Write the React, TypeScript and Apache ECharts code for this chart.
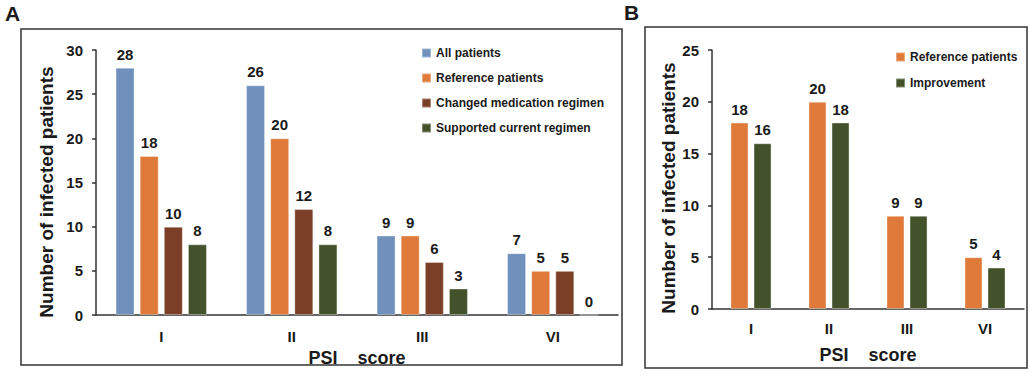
import React, { useEffect, useRef } from "react";
import * as echarts from "echarts";

const categories = ["I", "II", "III", "VI"];
const allPatients = [28, 26, 9, 7];
const referencePatients = [18, 20, 9, 5];
const changedRegimen = [10, 12, 6, 5];
const supportedRegimen = [8, 8, 3, 0];

const refPatientsB = [18, 20, 9, 5];
const improvementB = [16, 18, 9, 4];

const yTicksA = { min: 0, max: 30, interval: 5 };
const yTicksB = { min: 0, max: 25, interval: 5 };

const C_BLUE = "#7191BD";
const C_ORANGE = "#E07A3A";
const C_BROWN = "#7B3F28";
const C_GREEN = "#43522B";
const FONT = "Liberation Sans, Arial, sans-serif";
const INK = "#1a1a1a";
const Y_TITLE = "Number of infected patients";
const X_TITLE = "PSI    score";

export default function App() {
  const ref = useRef<HTMLDivElement>(null);
  useEffect(() => {
    if (!ref.current) return;
    const chart = echarts.init(ref.current, null, { renderer: "svg" });
    const label = {
      show: true,
      position: "top",
      distance: 6,
      fontFamily: FONT,
      fontWeight: "bold",
      fontSize: 15,
      color: INK,
    };
    const xAxisCommon = {
      type: "category",
      data: categories,
      axisTick: { show: false },
      axisLine: { lineStyle: { color: "#333", width: 1.5 } },
      axisLabel: { fontFamily: FONT, fontWeight: "bold", fontSize: 15, color: INK },
      nameLocation: "middle",
      nameTextStyle: { fontFamily: FONT, fontWeight: "bold", fontSize: 18, color: INK },
      name: X_TITLE,
    };
    const yAxisCommon = {
      type: "value",
      splitLine: { show: false },
      axisLine: { show: true, lineStyle: { color: "#333", width: 1.5 } },
      axisTick: { show: true, length: 4, lineStyle: { color: "#333", width: 1.5 } },
      axisLabel: { fontFamily: FONT, fontWeight: "bold", fontSize: 15, color: INK, margin: 13 },
    };
    const bar = (name: string, data: number[], color: string, idx: number, bw: number, gap: string) => ({
      name,
      type: "bar",
      data,
      xAxisIndex: idx,
      yAxisIndex: idx,
      barWidth: bw,
      barGap: gap,
      itemStyle: { color, borderColor: "rgba(255,255,255,0.35)", borderWidth: 1 },
      label,
    });
    const yTitle = (x: number, y: number) => ({
      type: "text",
      x,
      y,
      rotation: Math.PI / 2,
      style: {
        text: Y_TITLE,
        fontFamily: FONT,
        fontWeight: "bold",
        fontSize: 19,
        fill: INK,
        align: "center",
        verticalAlign: "middle",
      },
    });
    chart.setOption({
      animation: false,
      textStyle: { fontFamily: FONT },
      grid: [
        { left: 96, top: 50, width: 522, height: 265 },
        { left: 712, top: 50, width: 312, height: 259 },
      ],
      xAxis: [
        { ...xAxisCommon, gridIndex: 0, nameGap: 30, axisLabel: { ...xAxisCommon.axisLabel, margin: 14 } },
        { ...xAxisCommon, gridIndex: 1, nameGap: 37, axisLabel: { ...xAxisCommon.axisLabel, margin: 12 } },
      ],
      yAxis: [
        { ...yAxisCommon, gridIndex: 0, ...yTicksA },
        { ...yAxisCommon, gridIndex: 1, ...yTicksB },
      ],
      legend: [
        {
          orient: "vertical",
          left: 416,
          top: 42,
          itemWidth: 9,
          itemHeight: 9,
          itemGap: 13,
          icon: "rect",
          textStyle: { fontFamily: FONT, fontWeight: "bold", fontSize: 12, color: INK },
          data: ["All patients", "Reference patients", "Changed medication regimen", "Supported current regimen"],
        },
        {
          orient: "vertical",
          left: 890,
          top: 46,
          itemWidth: 9,
          itemHeight: 9,
          itemGap: 14,
          icon: "rect",
          textStyle: { fontFamily: FONT, fontWeight: "bold", fontSize: 12, color: INK },
          data: ["Reference patients ", "Improvement"],
        },
      ],
      series: [
        bar("All patients", allPatients, C_BLUE, 0, 19, "27%"),
        bar("Reference patients", referencePatients, C_ORANGE, 0, 19, "27%"),
        bar("Changed medication regimen", changedRegimen, C_BROWN, 0, 19, "27%"),
        bar("Supported current regimen", supportedRegimen, C_GREEN, 0, 19, "27%"),
        bar("Reference patients ", refPatientsB, C_ORANGE, 1, 18, "28%"),
        bar("Improvement", improvementB, C_GREEN, 1, 18, "28%"),
      ],
      graphic: [
        { type: "rect", shape: { x: 21, y: 29, width: 601, height: 336 }, style: { fill: "none", stroke: "#333", lineWidth: 1.5 } },
        { type: "rect", shape: { x: 645, y: 27, width: 382, height: 341 }, style: { fill: "none", stroke: "#333", lineWidth: 1.5 } },
        { type: "text", left: 5, top: 3, style: { text: "A", fontFamily: FONT, fontWeight: "bold", fontSize: 21, fill: INK } },
        { type: "text", left: 624, top: 2, style: { text: "B", fontFamily: FONT, fontWeight: "bold", fontSize: 21, fill: INK } },
        yTitle(46, 192),
        yTitle(668, 188),
      ],
    });
    return () => chart.dispose();
  }, []);
  return (
    <div
      ref={ref}
      style={{ position: "fixed", left: 0, top: 0, width: 1030, height: 376, background: "#fff" }}
    />
  );
}
